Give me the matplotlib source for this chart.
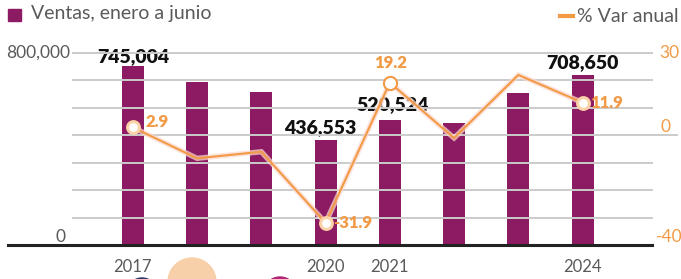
import matplotlib
matplotlib.use("Agg")
import matplotlib.pyplot as plt
import matplotlib.patheffects as pe
from matplotlib.patches import Circle

years = ["2017", "2018", "2019", "2020", "2021", "2022", "2023", "2024"]
ventas = [745004, 680400, 638800, 436553, 520524, 508000, 633300, 708650]
var_pct = [2.9, -8.4, -6.0, -31.9, 19.2, -1.0, 22.0, 11.9]
tick_years = ["2017", "2020", "2021", "2024"]
bar_labels = {"2017": "745,004", "2020": "436,553", "2021": "520,524", "2024": "708,650"}
pct_labels = {"2017": "2.9", "2020": "-31.9", "2021": "19.2", "2024": "11.9"}
left_ticks = [0, 800000]
left_ticklabels = ["0", "800,000"]
right_ticks = [-40, 0, 30]
right_ticklabels = ["-40", "0", "30"]

BAR = "#8d1b63"
ORANGE = "#f29a45"
GRAY = "#5a5a5a"
GRID = "#cbcbcb"
FONT = "Lato"

W, H = 681, 279
fig = plt.figure(figsize=(W / 100, H / 100), dpi=100)
L, R, T, B = 75, 652, 53, 245
ax = fig.add_axes([L / W, 1 - B / H, (R - L) / W, (B - T) / H])
ax2 = ax.twinx()

x = list(range(len(years)))
ax.bar(x, ventas, width=0.34, color=BAR, zorder=2)
ax.set_xlim(-0.9, 8.08)
ax.set_ylim(0, 800000)
ax2.set_ylim(-40, 30)

# gridlines on the right scale
for g in range(-30, 31, 10):
    ax2.axhline(g, color=GRID, lw=1.4, zorder=0, xmin=-0.003,
                xmax=(1.043 if g == 0 else 1.0), clip_on=False)
# baseline
ax2.plot([-0.116, 1.0], [-40, -40], color="#222222", lw=2.2,
         transform=ax2.get_yaxis_transform(), clip_on=False, zorder=5)
ax2.patch.set_visible(False)

line, = ax2.plot(x, var_pct, color=ORANGE, lw=1.5, zorder=4, solid_joinstyle="miter")
line.set_path_effects([pe.Stroke(linewidth=3.8, foreground="#fbd9cf", alpha=0.75), pe.Normal()])
for i, y in enumerate(years):
    if y in pct_labels:
        ax2.plot(x[i], var_pct[i], marker="o", ms=(9.5 if y == "2021" else 8.5),
                 mfc="white", mec=(ORANGE if y == "2021" else "#fbd2a8"),
                 mew=(1.5 if y == "2021" else 2.2), zorder=6)

for sp in list(ax.spines.values()) + list(ax2.spines.values()):
    sp.set_visible(False)

# x ticks
ax.set_xticks([years.index(t) for t in tick_years])
ax.set_xticklabels(tick_years, fontsize=12, color=GRAY, family=FONT)
ax.tick_params(axis="x", length=0, pad=10)
ax.set_yticks([])
ax2.set_yticks([])

# left tick labels
ax.text(-0.009, 800000, left_ticklabels[1], transform=ax.get_yaxis_transform(),
        ha="right", va="center", fontsize=12.5, color=GRAY, family=FONT)
ax.text(-0.016, 0, left_ticklabels[0], transform=ax.get_yaxis_transform(),
        ha="right", va="bottom", fontsize=12.5, color=GRAY, family=FONT)
# right tick labels
rpos = {"30": (1.012, 30, "center"), "0": (1.014, 0, "bottom"), "-40": (1.006, -40, "bottom")}
for t, lab in zip(right_ticks, right_ticklabels):
    xx, yy, va = rpos[lab]
    ax2.text(xx, yy, lab, transform=ax2.get_yaxis_transform(), ha="left", va=va,
             fontsize=12.5, color=ORANGE, family=FONT)

# bar value labels
bar_off = {"2017": (0, 10), "2020": (-5, 13), "2021": (3, 15), "2024": (0, 12)}
for i, y in enumerate(years):
    if y in bar_labels:
        ax.annotate(bar_labels[y], (x[i], ventas[i]), xytext=bar_off[y],
                    textcoords="offset pixels", ha="center", va="center",
                    fontsize=14, fontweight="heavy", color="#111111", family=FONT, zorder=7)

pct_off = {"2017": (13, 5, "left"), "2020": (8, 0, "left"), "2021": (1, 20, "center"), "2024": (8, 0, "left")}
for i, y in enumerate(years):
    if y in pct_labels:
        dx, dy, ha = pct_off[y]
        ax2.annotate(pct_labels[y], (x[i], var_pct[i]), xytext=(dx, dy),
                     textcoords="offset pixels", ha=ha, va="center",
                     fontsize=12, fontweight="heavy", color=ORANGE, family=FONT, zorder=7)

# legends
fig.patches.append(plt.Rectangle((8 / W, 1 - 21 / H), 13 / W, 12 / H, color=BAR,
                                 transform=fig.transFigure, figure=fig))
fig.text(31 / W, 1 - 14 / H, "Ventas, enero a junio", ha="left", va="center",
         fontsize=14, color=GRAY, family=FONT)
fig.add_artist(plt.Line2D([560 / W, 573 / W], [1 - 16 / H, 1 - 16 / H],
                          color=ORANGE, lw=3, transform=fig.transFigure))
fig.text(577 / W, 1 - 17 / H, "% Var anual", ha="left", va="center",
         fontsize=14, color=GRAY, family=FONT)

# decorative partial circles at the bottom
for cx, cy, r, c in [(142, 294, 16, "#2b3a66"), (192, 282, 24, "#f7cfa8"), (280, 294, 17, "#b0267a")]:
    fig.add_artist(Circle((cx, H - cy), r, transform=None, color=c, zorder=0))

fig.savefig("out.png", dpi=100)
